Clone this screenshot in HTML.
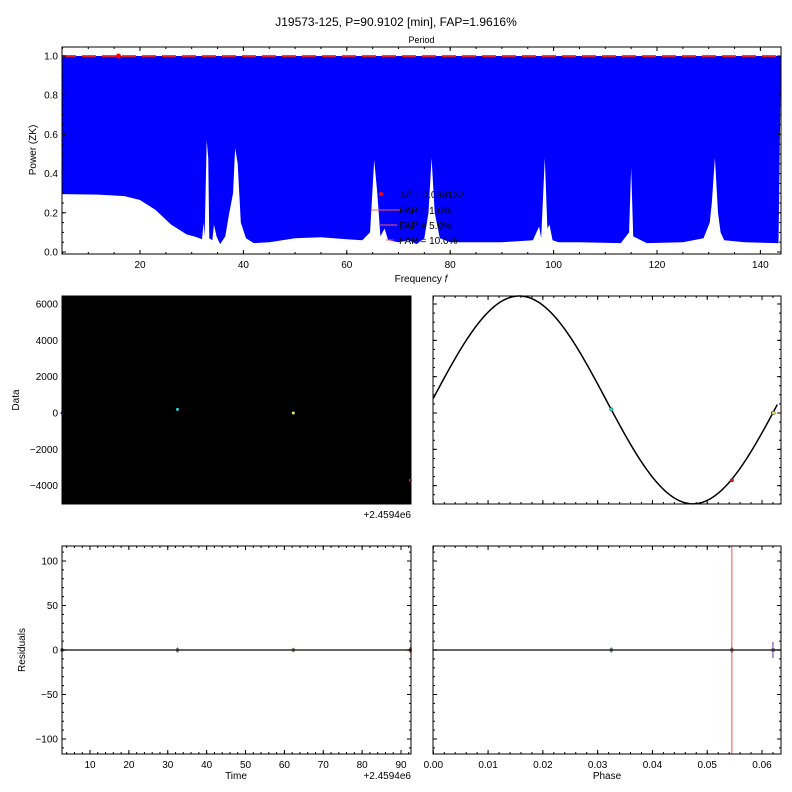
<!DOCTYPE html>
<html><head><meta charset="utf-8"><style>
body{margin:0;background:#fff;}
svg{display:block;font-family:"Liberation Sans","DejaVu Sans",sans-serif;}
</style></head><body>
<svg id="c" width="792" height="792" viewBox="0 0 792 792"></svg>
<script>
// ---- data ----
const envFreq=[5,12,17,20,23,26,29,31,32,32.3,32.5,32.9,33.2,33.4,34,34.3,34.8,35.5,36.5,37.2,38,38.4,38.9,39.5,40.5,42,45,50,55,60,63,64.5,65.3,65.9,66.5,67.3,68,70,72,73.5,75,75.8,76.4,77,78,80,85,90,96,97.2,97.6,98.3,98.8,99.2,99.8,101,105,113,114.6,115,115.4,118,125,129,130.2,130.6,131.2,131.8,132.3,133,137,143.5];
const envPow=[.295,.293,.285,.265,.215,.14,.09,.075,.065,.15,.08,.57,.48,.07,.06,.14,.08,.04,.08,.19,.3,.53,.45,.15,.07,.045,.05,.07,.075,.065,.06,.1,.47,.3,.08,.12,.06,.05,.06,.04,.07,.2,.48,.2,.07,.05,.05,.05,.06,.13,.07,.48,.12,.14,.06,.05,.05,.045,.1,.43,.08,.045,.05,.07,.15,.25,.48,.2,.1,.06,.05,.045];
const bestFreq=[15.84];
const bestPow=[1.0];
const fapLevels=[1.0,1.0,1.0];
const fapLabels=["FAP = 1.0%","FAP = 5.0%","FAP = 10.0%"];
const freqTicks=[20,40,60,80,100,120,140];
const powTicks=[0,0.2,0.4,0.6,0.8,1.0];
const timeVals=[2.8,32.5,62.3,92.4];
const dataVals=[0,200,0,-3700];
const resVals=[0,0,0,0];
const phaseVals=[0.062,0.0325,0.0621,0.0545];
const ptColors=["#5a2ca0","#22d3d8","#e8e860","#e02020"];
const dataTicks=[-4000,-2000,0,2000,4000,6000];
const timeTicks=[10,20,30,40,50,60,70,80,90];
const resTicks=[-100,-50,0,50,100];
const phaseTicks=[0,0.01,0.02,0.03,0.04,0.05,0.06];
const fitCenter=[720];
const fitAmp=[5720];
const fitPeakPhase=[0.0157];
const fitPeriod=[0.0634];
const markedPhase=[0.0545];

const NS="http://www.w3.org/2000/svg";
const svg=document.getElementById('c');
function el(t,a,p){const e=document.createElementNS(NS,t);for(const k in a)e.setAttribute(k,a[k]);(p||svg).appendChild(e);return e;}
function lin(d0,d1,r0,r1){return v=>r0+(v-d0)*(r1-r0)/(d1-d0);}
function txt(x,y,s,o){const t=el('text',Object.assign({x:x,y:y,'font-size':10,fill:'#000'},o||{}));t.textContent=s;return t;}

let t=txt(396,26,"J19573-125, P=90.9102 [min], FAP=1.9616%",{'text-anchor':'middle','font-size':12});


function axesBox(L,T,R,B,name){const r=el('rect',{x:L,y:T,width:R-L,height:B-T,fill:'none',stroke:'#000','stroke-width':1});}
function ticksX(sx,ticks,T,B,labels,minorStep,d0,d1,fmt){
  ticks.forEach(v=>{const x=sx(v);el('line',{x1:x,x2:x,y1:B,y2:B-4,stroke:'#000'});el('line',{x1:x,x2:x,y1:T,y2:T+4,stroke:'#000'});
    if(labels){const l=txt(x,B+14,fmt?fmt(v):String(v),{'text-anchor':'middle'});}});
  if(minorStep){for(let v=Math.ceil(d0/minorStep)*minorStep;v<=d1;v+=minorStep){const x=sx(v);el('line',{x1:x,x2:x,y1:B,y2:B-2,stroke:'#000'});el('line',{x1:x,x2:x,y1:T,y2:T+2,stroke:'#000'});}}
}
function ticksY(sy,ticks,L,R,labels,minorStep,d0,d1,fmt){
  ticks.forEach(v=>{const y=sy(v);el('line',{x1:L,x2:L+4,y1:y,y2:y,stroke:'#000'});el('line',{x1:R,x2:R-4,y1:y,y2:y,stroke:'#000'});
    if(labels){const l=txt(L-4,y+3.5,fmt?fmt(v):String(v).replace('-','\u2212'),{'text-anchor':'end'});}});
  if(minorStep){for(let v=Math.ceil(d0/minorStep)*minorStep;v<=d1;v+=minorStep){const y=sy(v);el('line',{x1:L,x2:L+2,y1:y,y2:y,stroke:'#000'});el('line',{x1:R,x2:R-2,y1:y,y2:y,stroke:'#000'});}}
}

// ---- top panel ----
{const L=62,R=781,T=47,B=254;
const sx=lin(0,20,36.6,140),sy=lin(0,1,252,56);
const f0=(L-36.6)/5.17,f1=(R-36.6)/5.17;
let d=`M${L},${sy(1)} `;
envFreq.forEach((f,i)=>{d+=`L${Math.max(L,Math.min(R,sx(f)))},${sy(envPow[i])} `;});
d+=`L${R},${sy(1)} Z`;
const p=el('path',{d:d,fill:'#0000ff',stroke:'none'});
fapLevels.forEach((v,i)=>{const l=el('line',{x1:L,x2:R,y1:sy(v),y2:sy(v),stroke:'#ff2020','stroke-width':1.5,'stroke-dasharray':'14,6',opacity:0.8});});
bestFreq.forEach((f,i)=>{const c=el('circle',{cx:sx(f),cy:sy(bestPow[i]),r:2.5,fill:'#f00'});});
axesBox(L,T,R,B,'periodogram-axes');
ticksX(sx,freqTicks,T,B,true,5,f0,f1);
ticksY(sy,powTicks,L,R,true,0.05,0,1.04,v=>v.toFixed(1));
const xt=el('text',{x:421,y:282,'font-size':10,'text-anchor':'middle'});
xt.appendChild(document.createTextNode('Frequency '));const ts=el('tspan',{'font-style':'italic'},xt);ts.textContent='f';
let ya=txt(0,0,"Power (ZK)",{'text-anchor':'middle',transform:'translate(36,150) rotate(-90)'});
const pt=txt((L+R)/2,43,"Period",{'text-anchor':'middle','font-size':9});
const lg=el('g',{});
el('circle',{cx:381,cy:194,r:2,fill:'#f00'},lg);
const l0=txt(400,198,"1/f = 0.063132");lg.appendChild(l0);
const lw=[20,12,5];
fapLabels.forEach((s,i)=>{const y=210+15*i;el('line',{x1:391-lw[i],x2:391+lw[i]/2,y1:y,y2:y,stroke:'#f06060'},lg);const tt=txt(399,y+4,s);lg.appendChild(tt);});
}

// ---- middle left ----
{const L=62,R=411,T=296,B=504;
const sx=lin(10,90,90,401),sy=lin(0,6000,413,304);
const r=el('rect',{x:L,y:T,width:R-L,height:B-T,fill:'#000'});
timeVals.forEach((tv,i)=>{const c=el('circle',{cx:sx(tv),cy:sy(dataVals[i]),r:1.5,fill:ptColors[i]});});
axesBox(L,T,R,B,'data-axes');
ticksX(sx,timeTicks,T,B,false,2,2.8,92.5);
ticksY(sy,dataTicks,L,R,true,500,-5000,6400);
txt(R,518,"+2.4594e6",{'text-anchor':'end'});
let ya=txt(0,0,"Data",{'text-anchor':'middle',transform:'translate(19,400) rotate(-90)'});
}

// ---- middle right ----
{const L=433,R=781,T=296,B=504;
const sx=lin(0,0.06,433.3,762),sy=lin(0,6000,413,304);
let d='';for(let k=0;k<=200;k++){const ph=k/200*0.0628;const v=fitCenter[0]+fitAmp[0]*Math.cos(2*Math.PI*(ph-fitPeakPhase[0])/fitPeriod[0]);d+=(k?'L':'M')+sx(ph)+','+sy(v)+' ';}
const p=el('path',{d:d,fill:'none',stroke:'#000','stroke-width':1.5});
phaseVals.forEach((ph,i)=>{const c=el('circle',{cx:sx(ph),cy:sy(dataVals[i]),r:1.8,fill:ptColors[i],stroke:'#333','stroke-width':0.5});});
axesBox(L,T,R,B,'folded-axes');
ticksX(sx,phaseTicks,T,B,false,0.002,0,0.0634);
ticksY(sy,dataTicks,L,R,false,500,-5000,6400);
}

// ---- bottom left ----
{const L=62,R=411,T=546,B=754;
const sx=lin(10,90,90,401),sy=lin(0,100,650,561);
const z=el('line',{x1:L,x2:R,y1:sy(0),y2:sy(0),stroke:'#333','stroke-width':1.5});
timeVals.forEach((tv,i)=>{el('line',{x1:sx(tv),x2:sx(tv),y1:sy(resVals[i])-3,y2:sy(resVals[i])+3,stroke:ptColors[i]});const c=el('rect',{x:sx(tv)-1.5,y:sy(resVals[i])-1.5,width:3,height:3,fill:'#333'});});
axesBox(L,T,R,B,'residuals-axes');
ticksX(sx,timeTicks,T,B,true,2,2.8,92.5);
ticksY(sy,resTicks,L,R,true,10,-117,116);
txt(R,779,"+2.4594e6",{'text-anchor':'end'});
const xt=txt(236,779,"Time",{'text-anchor':'middle'});
let ya=txt(0,0,"Residuals",{'text-anchor':'middle',transform:'translate(25,650) rotate(-90)'});
}

// ---- bottom right ----
{const L=433,R=781,T=546,B=754;
const sx=lin(0,0.06,433.3,762),sy=lin(0,100,650,561);
markedPhase.forEach(ph=>{const l=el('line',{x1:sx(ph),x2:sx(ph),y1:T,y2:B,stroke:'#ff5050'});});
const z=el('line',{x1:L,x2:R,y1:sy(0),y2:sy(0),stroke:'#333','stroke-width':1.5});
phaseVals.forEach((ph,i)=>{el('line',{x1:sx(ph),x2:sx(ph),y1:sy(resVals[i])-(i==0?8:3),y2:sy(resVals[i])+(i==0?8:3),stroke:ptColors[i]});const c=el('rect',{x:sx(ph)-1.5,y:sy(resVals[i])-1.5,width:3,height:3,fill:'#333'});});
axesBox(L,T,R,B,'phase-residuals-axes');
ticksX(sx,phaseTicks,T,B,true,0.002,0,0.0634,v=>v.toFixed(2));
ticksY(sy,resTicks,L,R,false,10,-117,116);
const xt=txt(607,779,"Phase",{'text-anchor':'middle'});
}
</script>
</body></html>
